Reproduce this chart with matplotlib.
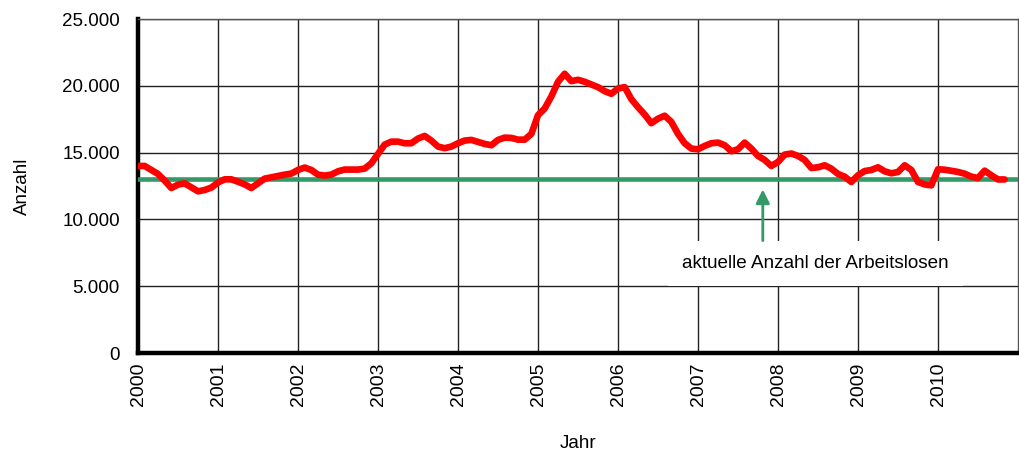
import numpy as np
import matplotlib
matplotlib.use("Agg")
import matplotlib.pyplot as plt

plt.rcParams.update({
    "font.family": ["Liberation Sans", "DejaVu Sans"],
    "font.size": 13.5,
})

# monthly values, Jan 2000 .. Nov 2010
anzahl = [
    14000, 14000, 13700, 13400, 12900, 12350, 12600, 12700, 12400, 12100, 12200, 12380,  # 2000
    12760, 13000, 13000, 12820, 12620, 12350, 12700, 13050, 13150, 13250, 13350, 13430,  # 2001
    13700, 13880, 13700, 13350, 13280, 13350, 13600, 13730, 13730, 13730, 13800, 14200,  # 2002
    14900, 15600, 15820, 15820, 15700, 15700, 16050, 16250, 15900, 15450, 15330, 15450,  # 2003
    15700, 15900, 15950, 15800, 15650, 15550, 15950, 16120, 16100, 15970, 15970, 16400,  # 2004
    17800, 18300, 19200, 20300, 20900, 20350, 20450, 20300, 20100, 19900, 19600, 19400,  # 2005
    19800, 19900, 19000, 18400, 17850, 17200, 17540, 17760, 17300, 16400, 15700, 15300,  # 2006
    15250, 15500, 15700, 15750, 15550, 15100, 15250, 15750, 15300, 14750, 14450, 14000,  # 2007
    14300, 14850, 14930, 14750, 14450, 13850, 13900, 14050, 13800, 13400, 13200, 12800,  # 2008
    13300, 13620, 13700, 13900, 13600, 13450, 13550, 14050, 13700, 12800, 12620, 12550,  # 2009
    13750, 13720, 13640, 13550, 13420, 13200, 13100, 13650, 13300, 12990, 12990,         # 2010
]
jahre = 2000 + np.arange(len(anzahl)) / 12.0
aktuell = 13000

year_ticks = list(range(2000, 2011))
y_ticks = [0, 5000, 10000, 15000, 20000, 25000]
y_labels = ["0", "5.000", "10.000", "15.000", "20.000", "25.000"]

fig = plt.figure(figsize=(10.19, 4.57), dpi=100)
ax = fig.add_axes([138 / 1019, 104 / 457, 880 / 1019, 334 / 457])

ax.set_xlim(2000, 2011)
ax.set_ylim(0, 25000)
ax.set_xticks(year_ticks)
ax.set_xticklabels([str(y) for y in year_ticks], rotation=90, fontsize=14)
ax.set_yticks(y_ticks)
ax.set_yticklabels(y_labels)
ax.tick_params(length=0)
ax.tick_params(axis="x", pad=7)
ax.tick_params(axis="y", pad=13)

ax.grid(True, color="#222222", linewidth=1.0)
ax.set_axisbelow(True)

for s in ["top", "right"]:
    ax.spines[s].set_linewidth(1.0)
    ax.spines[s].set_color("#555555")
for s in ["left", "bottom"]:
    ax.spines[s].set_linewidth(3.2)
    ax.spines[s].set_color("black")

ax.axhline(aktuell, color="#339966", linewidth=3.3, zorder=3)
ax.plot(jahre, anzahl, color="#ff0000", linewidth=4.8, solid_capstyle="round",
        solid_joinstyle="round", zorder=4)

ax.text(2008.47, 6700, "aktuelle Anzahl der Arbeitslosen", fontsize=13.6,
        ha="center", va="center", zorder=5,
        bbox=dict(boxstyle="square,pad=0.75", fc="white", ec="none"))
ax.annotate("", xy=(2007.81, 12450), xytext=(2007.81, 8200),
            arrowprops=dict(arrowstyle="-|>,head_width=0.3,head_length=0.6",
                            color="#339966", lw=2),
            zorder=6)

ax.set_ylabel("Anzahl")
ax.set_xlabel("Jahr")
ax.yaxis.set_label_coords(-0.122, 0.5)
ax.xaxis.set_label_coords(0.5, -0.245)

fig.savefig("out.png", dpi=100)
